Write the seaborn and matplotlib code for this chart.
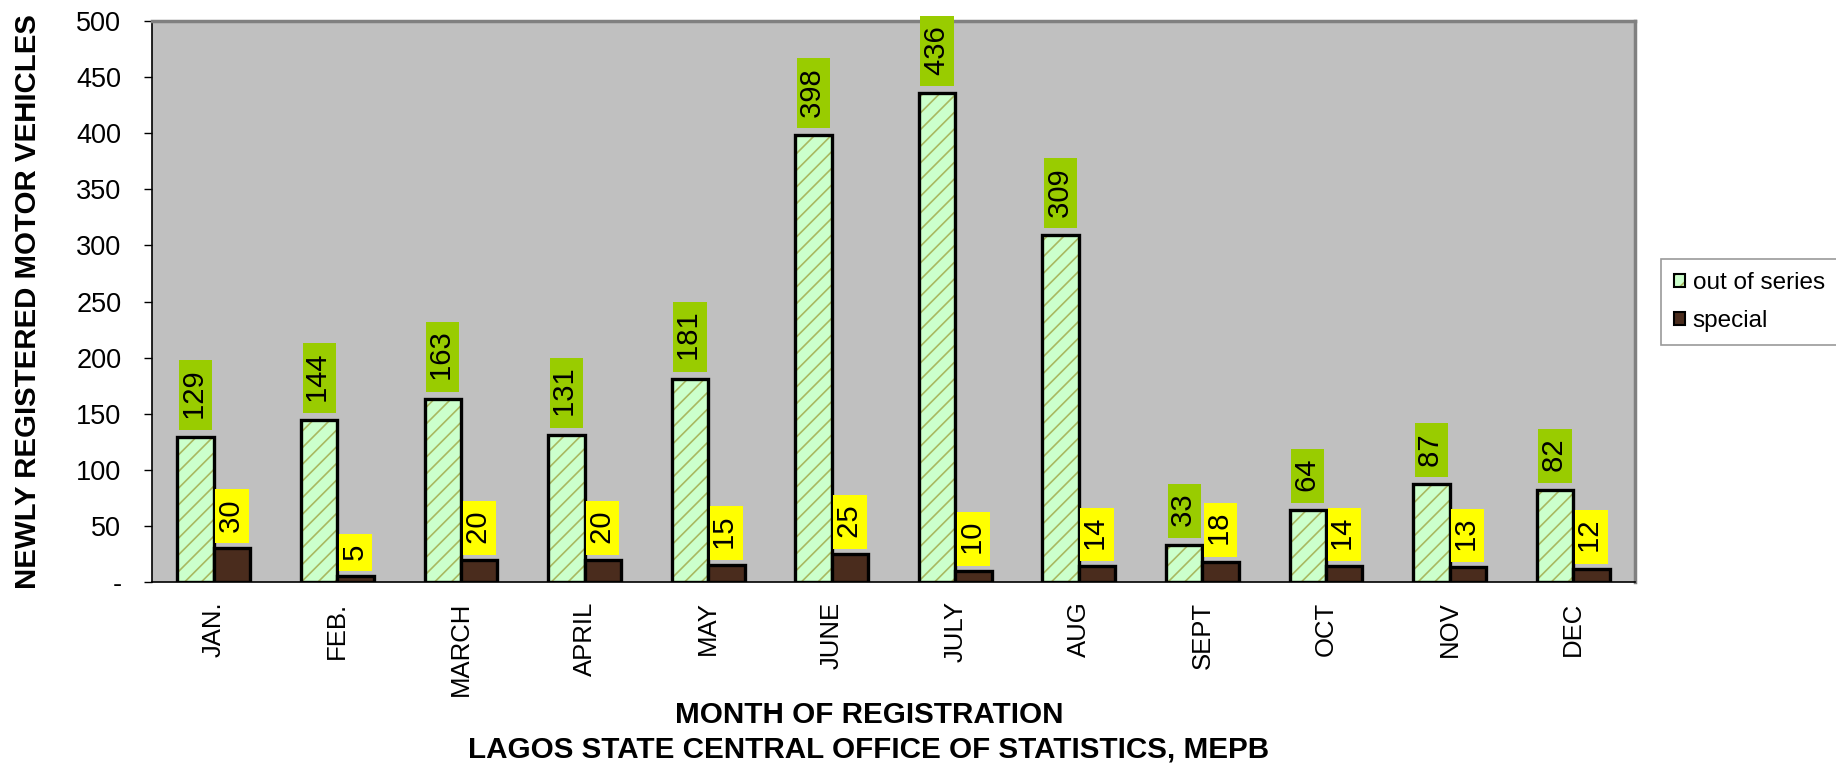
import pandas as pd
import matplotlib
matplotlib.use("Agg")
import matplotlib.pyplot as plt
import matplotlib.colors as mcolors
from matplotlib.patches import Patch
import seaborn as sns

# data
months = ["JAN.", "FEB.", "MARCH", "APRIL", "MAY", "JUNE",
          "JULY", "AUG", "SEPT", "OCT", "NOV", "DEC"]
out_of_series = [129, 144, 163, 131, 181, 398, 436, 309, 33, 64, 87, 82]
special = [30, 5, 20, 20, 15, 25, 10, 14, 18, 14, 13, 12]
series_names = ["out of series", "special"]
y_ticks = [0, 50, 100, 150, 200, 250, 300, 350, 400, 450, 500]

df = pd.DataFrame({
    "month": months * 2,
    "count": out_of_series + special,
    "series": [series_names[0]] * len(months) + [series_names[1]] * len(months),
})

sns.set_style("white")
plt.rcParams["font.family"] = ["Liberation Sans", "DejaVu Sans"]
plt.rcParams["hatch.linewidth"] = 1.2
plt.rcParams["text.color"] = "black"
plt.rcParams["xtick.color"] = "black"
plt.rcParams["ytick.color"] = "black"
plt.rcParams["axes.labelcolor"] = "black"

green_fill = "#CCFFCC"
hatch_col = "#A8B860"
brown = "#4A2C1D"

fig = plt.figure(figsize=(18.36, 7.66), dpi=100)
ax = fig.add_axes([152 / 1836, (766 - 582) / 766, (1635 - 152) / 1836, (582 - 21) / 766])
ax.set_facecolor("#C0C0C0")

sns.barplot(data=df, x="month", y="count", hue="series", order=months,
            hue_order=series_names, palette=[green_fill, brown], width=0.59,
            edgecolor="black", linewidth=2.4, saturation=1, legend=False,
            errorbar=None, ax=ax)

# hatch the light green bars
for bar in ax.containers[0]:
    bar.set_hatch("//")
    bar._hatch_color = mcolors.to_rgba(hatch_col)

# value labels in coloured boxes
ax.bar_label(ax.containers[0], labels=[f" {v} " for v in out_of_series],
             padding=7, rotation=90, fontsize=21, color="black", clip_on=False, zorder=5,
             bbox=dict(boxstyle="square,pad=0.09", fc="#99CC00", ec="none"))
ax.bar_label(ax.containers[1], labels=[f" {v} " for v in special],
             padding=5.5, rotation=90, fontsize=21, color="black", clip_on=False, zorder=5,
             bbox=dict(boxstyle="square,pad=0.09", fc="#FFFF00", ec="none"))

ax.set_xlim(-0.5, len(months) - 0.5)
ax.set_ylim(0, 500)
ax.set_yticks(y_ticks)
ax.set_yticklabels(["-" if t == 0 else str(t) for t in y_ticks], fontsize=19.5)
ax.set_xticks(range(len(months)))
ax.set_xticklabels(months, rotation=90, fontsize=18.5)
ax.set_xticks([i - 0.5 for i in range(len(months) + 1)], minor=True)
ax.tick_params(axis="x", which="major", length=0, pad=14)
ax.tick_params(axis="x", which="minor", length=7, width=1, color="black", direction="out")
ax.tick_params(axis="y", length=6, width=1, color="black", direction="out", pad=16, left=True)
ax.set_xlabel("")
ax.set_ylabel("")
ax.grid(False)

for side in ["left", "bottom"]:
    ax.spines[side].set_color("black")
    ax.spines[side].set_linewidth(1.2)
for side in ["top", "right"]:
    ax.spines[side].set_color("#808080")
    ax.spines[side].set_linewidth(2.5)

handles = [Patch(facecolor=green_fill, edgecolor="black", linewidth=1.5,
                 hatch="//", label=series_names[0]),
           Patch(facecolor=brown, edgecolor="black", linewidth=1.5,
                 label=series_names[1])]
leg = ax.legend(handles=handles, loc="center left",
                bbox_to_anchor=(1661 / 1836, 1 - 302 / 766),
                bbox_transform=fig.transFigure, borderaxespad=0,
                fontsize=17.5, frameon=True, fancybox=False,
                handlelength=0.45, handleheight=0.45, handletextpad=0.3,
                labelspacing=0.65, borderpad=0.55)
leg.get_frame().set_edgecolor("#808080")
leg.get_frame().set_linewidth(1.2)
leg.legend_handles[0]._hatch_color = mcolors.to_rgba(hatch_col)

fig.text(28 / 1836, 1 - 302 / 766, "NEWLY REGISTERED MOTOR VEHICLES",
         rotation=90, ha="center", va="center", fontsize=21.2, fontweight="bold")
fig.text(869 / 1836, 1 - 715 / 766, "MONTH OF REGISTRATION",
         ha="center", va="center", fontsize=21.3, fontweight="bold")
fig.text(869 / 1836, 1 - 750 / 766, "LAGOS STATE CENTRAL OFFICE OF STATISTICS, MEPB",
         ha="center", va="center", fontsize=21.3, fontweight="bold")

fig.savefig("out.png", dpi=100)
